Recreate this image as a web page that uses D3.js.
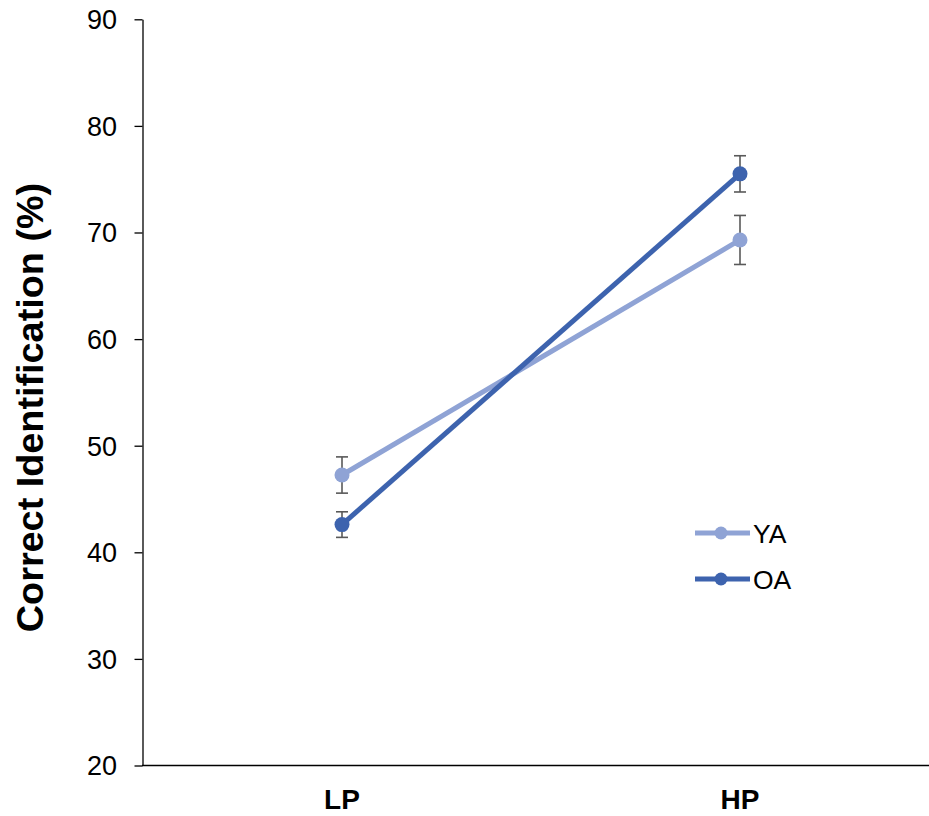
<!DOCTYPE html>
<html><head><meta charset="utf-8">
<script src="https://cdn.jsdelivr.net/npm/d3@7"></script>
<style>body{margin:0;background:#fff}svg{display:block}text{font-family:"Liberation Sans",Arial,sans-serif}</style>
</head><body>
<script>
const categories = ["LP", "HP"];
const seriesNames = ["YA", "OA"];
const yaValues = [47.25, 69.3];
const yaErrors = [1.7, 2.3];
const oaValues = [42.6, 75.5];
const oaErrors = [1.2, 1.7];
const yTicks = [20, 30, 40, 50, 60, 70, 80, 90];
const colors = {YA: "#8FA3D5", OA: "#3D63AE"};

const W = 929, H = 816;
const svg = d3.select("body").append("svg").attr("width", W).attr("height", H);
const y = d3.scaleLinear().domain([20, 90]).range([765.5, 19.3]);
const x = d3.scalePoint().domain(categories).range([143, 939]).padding(0.5);

// axes
const yAxis = d3.axisLeft(y).tickValues(yTicks).tickSize(8).tickSizeOuter(0);
const gy = svg.append("g").attr("transform", "translate(142.5,0)").call(yAxis);
gy.attr("font-size", null).attr("font-family", null);
gy.select(".domain").attr("stroke", "#000").attr("stroke-width", 1.3);
gy.selectAll(".tick line").attr("stroke", "#000").attr("stroke-width", 1.3);
gy.selectAll(".tick text").attr("font-size", 27).attr("fill", "#000").attr("x", -25.5).attr("dy", "0.35em");

svg.append("line").attr("x1", 142).attr("x2", W).attr("y1", y(20)).attr("y2", y(20))
  .attr("stroke", "#000").attr("stroke-width", 1.3);

svg.selectAll(".cat").data(categories).enter().append("text")
  .attr("x", d => x(d)).attr("y", 809).attr("text-anchor", "middle")
  .attr("font-size", 28).attr("font-weight", "bold").text(d => d);

svg.append("text").attr("transform", "translate(43,407.5) rotate(-90)")
  .attr("text-anchor", "middle").attr("font-size", 37.8).attr("font-weight", "bold")
  .text("Correct Identification (%)");

const series = [
  {name: "YA", values: yaValues, errors: yaErrors},
  {name: "OA", values: oaValues, errors: oaErrors}
];
const line = d3.line().x((d, i) => x(categories[i])).y(d => y(d));

series.forEach(s => {
  const g = svg.append("g");
  s.values.forEach((v, i) => {
    const cx = x(categories[i]);
    const e = s.errors[i];
    g.append("line").attr("x1", cx).attr("x2", cx).attr("y1", y(v - e)).attr("y2", y(v + e))
      .attr("stroke", "#595959").attr("stroke-width", 1.6);
    [v - e, v + e].forEach(t => g.append("line").attr("x1", cx - 6).attr("x2", cx + 6)
      .attr("y1", y(t)).attr("y2", y(t)).attr("stroke", "#595959").attr("stroke-width", 1.6));
  });
});
series.forEach(s => {
  svg.append("path").datum(s.values).attr("d", line).attr("fill", "none")
    .attr("stroke", colors[s.name]).attr("stroke-width", 5);
  svg.selectAll(null).data(s.values).enter().append("circle")
    .attr("cx", (d, i) => x(categories[i])).attr("cy", d => y(d)).attr("r", 7.5)
    .attr("fill", colors[s.name]);
});

// legend
const legY = [533, 579];
seriesNames.forEach((n, i) => {
  const g = svg.append("g");
  g.append("line").attr("x1", 695).attr("x2", 750).attr("y1", legY[i]).attr("y2", legY[i])
    .attr("stroke", colors[n]).attr("stroke-width", 5);
  g.append("circle").attr("cx", 721).attr("cy", legY[i]).attr("r", 6.5).attr("fill", colors[n]);
  g.append("text").attr("x", 753).attr("y", legY[i] + 9.5).attr("font-size", 26.5).text(n);
});
</script>
</body></html>
